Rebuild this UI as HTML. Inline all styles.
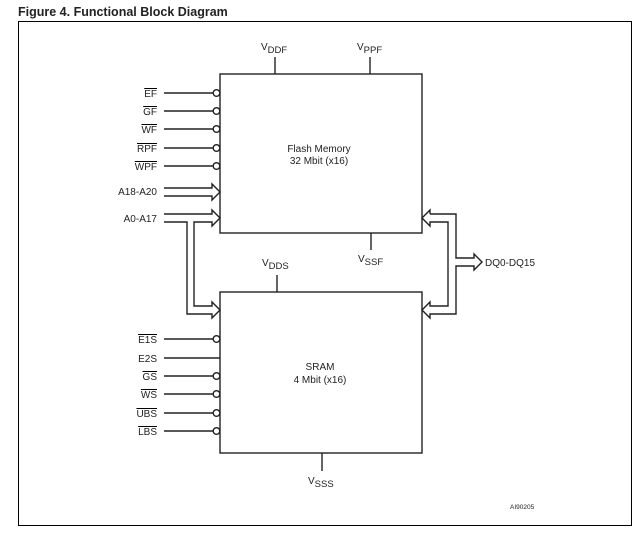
<!DOCTYPE html>
<html><head><style>
html,body{margin:0;padding:0;background:#fff;width:644px;height:534px;overflow:hidden}
svg{display:block}
text{font-family:"Liberation Sans",Arial,sans-serif;fill:#222}
</style></head><body>
<svg width="644" height="534" viewBox="0 0 644 534" xmlns="http://www.w3.org/2000/svg">
<text x="18" y="16" font-size="12.5" font-weight="bold" fill="#000">Figure 4. Functional Block Diagram</text>
<rect x="18.5" y="21.5" width="613" height="504" fill="none" stroke="#000" stroke-width="1"/>
<g fill="none" stroke="#222" stroke-width="1.4">
<rect x="220" y="74" width="202" height="159"/>
<rect x="220" y="292" width="202" height="161"/>
<line x1="275" y1="57" x2="275" y2="74"/>
<line x1="370" y1="57" x2="370" y2="74"/>
<line x1="371" y1="233" x2="371" y2="250"/>
<line x1="277" y1="275" x2="277" y2="292"/>
<line x1="322" y1="453" x2="322" y2="471"/>
<line x1="164" y1="93" x2="213" y2="93"/>
<line x1="164" y1="111" x2="213" y2="111"/>
<line x1="164" y1="129" x2="213" y2="129"/>
<line x1="164" y1="148" x2="213" y2="148"/>
<line x1="164" y1="166" x2="213" y2="166"/>
<circle cx="216.5" cy="93" r="3.3"/><circle cx="216.5" cy="111" r="3.3"/><circle cx="216.5" cy="129" r="3.3"/><circle cx="216.5" cy="148" r="3.3"/><circle cx="216.5" cy="166" r="3.3"/>
<polyline points="164,188 212,188 212,184 220,192 212,200 212,196 164,196"/>
<polyline points="164,214 212,214 212,210 220,218 212,226 212,222 194,222 194,306 212,306 212,302 220,310 212,318 212,314 187,314 187,222 164,222"/>
<polyline points="430,214 456,214 456,258 474,258 474,254 482,262 474,270 474,266 456,266 456,314 430,314 430,318 422,310 430,302 430,306 448,306 448,222 430,222 430,226 422,218 430,210 430,214"/>
<line x1="164" y1="339" x2="213" y2="339"/>
<line x1="164" y1="358" x2="220" y2="358"/>
<line x1="164" y1="376" x2="213" y2="376"/>
<line x1="164" y1="394" x2="213" y2="394"/>
<line x1="164" y1="413" x2="213" y2="413"/>
<line x1="164" y1="431" x2="213" y2="431"/>
<circle cx="216.5" cy="339" r="3.3"/><circle cx="216.5" cy="376" r="3.3"/><circle cx="216.5" cy="394" r="3.3"/><circle cx="216.5" cy="413" r="3.3"/><circle cx="216.5" cy="431" r="3.3"/>
</g>
<g font-size="10" text-anchor="end" text-decoration="overline">
<text x="157" y="97">EF</text>
<text x="157" y="115">GF</text>
<text x="157" y="133">WF</text>
<text x="157" y="152">RPF</text>
<text x="157" y="170">WPF</text>
<text x="157" y="343">E1S</text>
<text x="157" y="380">GS</text>
<text x="157" y="398">WS</text>
<text x="157" y="417">UBS</text>
<text x="157" y="435">LBS</text>
</g>
<g font-size="10" text-anchor="end">
<text x="157" y="195">A18-A20</text>
<text x="157" y="222">A0-A17</text>
<text x="157" y="362">E2S</text>
</g>
<text x="485" y="266" font-size="10">DQ0-DQ15</text>
<g font-size="10" text-anchor="middle">
<text x="319" y="152">Flash Memory</text>
<text x="319" y="164">32 Mbit (x16)</text>
<text x="320" y="370">SRAM</text>
<text x="320" y="383">4 Mbit (x16)</text>
</g>
<g font-size="10">
<text x="261" y="50">V<tspan font-size="9.5" dy="3">DDF</tspan></text>
<text x="357" y="50">V<tspan font-size="9.5" dy="3">PPF</tspan></text>
<text x="358" y="262">V<tspan font-size="9.5" dy="3">SSF</tspan></text>
<text x="262" y="266">V<tspan font-size="9.5" dy="3">DDS</tspan></text>
<text x="308" y="484">V<tspan font-size="9.5" dy="3">SSS</tspan></text>
</g>
<text x="510" y="509" font-size="6.5">AI90205</text>
</svg>
</body></html>
